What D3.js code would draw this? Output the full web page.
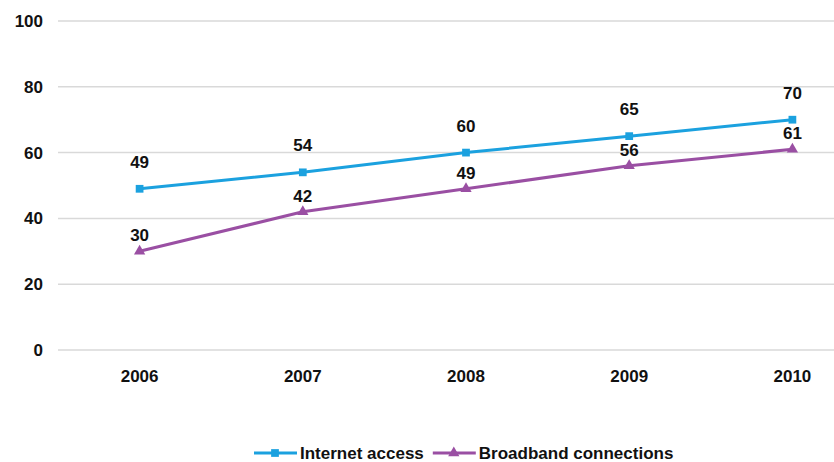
<!DOCTYPE html>
<html>
<head>
<meta charset="utf-8">
<script src="https://cdn.jsdelivr.net/npm/d3@7"></script>
<style>
  html, body { margin: 0; padding: 0; background: #fff; }
  svg { display: block; font-family: "Liberation Sans", Arial, sans-serif; }
</style>
</head>
<body>
<svg id="chart" width="834" height="462"></svg>
<script>
// Years on the x axis
const years = ["2006", "2007", "2008", "2009", "2010"];
// Share of households (%)
const internetAccess = [49, 54, 60, 65, 70];
const broadband = [30, 42, 49, 56, 61];
// Y axis ticks
const yTicks = [0, 20, 40, 60, 80, 100];
const seriesNames = ["Internet access", "Broadband connections"];

const svg = d3.select("#chart");
const W = 834;
const left = 58, plotRight = 874;
const fontSize = 17;

const x = d3.scaleBand().domain(years).range([left, plotRight]);
const cx = d => x(d) + x.bandwidth() / 2;
const y = d3.scaleLinear().domain([0, 100]).range([350, 21]);

const blue = "#1BA1DF";
const purple = "#9A4FA3";

// Gridlines
svg.append("g").selectAll("line").data(yTicks).join("line")
  .attr("x1", left).attr("x2", W)
  .attr("y1", d => y(d)).attr("y2", d => y(d))
  .attr("stroke", "#d9d9d9").attr("stroke-width", 1.5);

// Y axis labels
const yAxis = d3.axisLeft(y).tickValues(yTicks).tickSize(0).tickPadding(0);
svg.append("g").attr("transform", "translate(43,0)").call(yAxis)
  .call(g => g.select(".domain").remove())
  .selectAll("text")
  .attr("font-size", fontSize).attr("font-weight", "bold").attr("fill", "#111")
  .attr("font-family", "Liberation Sans, Arial, sans-serif");

// X axis labels
const xAxis = d3.axisBottom(x).tickSize(0).tickPadding(0);
svg.append("g").attr("transform", "translate(0,370)").call(xAxis)
  .call(g => g.select(".domain").remove())
  .selectAll("text")
  .attr("font-size", fontSize).attr("font-weight", "bold").attr("fill", "#111")
  .attr("font-family", "Liberation Sans, Arial, sans-serif");

const line = d3.line().x((d, i) => cx(years[i])).y(d => y(d));

const series = [
  { name: seriesNames[0], values: internetAccess, color: blue, symbol: d3.symbolSquare, size: 60, labelDy: -21 },
  { name: seriesNames[1], values: broadband, color: purple, symbol: d3.symbolTriangle, size: 55, labelDy: -10 }
];

series.forEach(s => {
  svg.append("path").datum(s.values)
    .attr("d", line).attr("fill", "none")
    .attr("stroke", s.color).attr("stroke-width", 3);
  svg.append("g").selectAll("path").data(s.values).join("path")
    .attr("d", d3.symbol().type(s.symbol).size(s.size))
    .attr("transform", (d, i) => `translate(${cx(years[i])},${y(d)})`)
    .attr("fill", s.color);
  svg.append("g").selectAll("text").data(s.values).join("text")
    .attr("x", (d, i) => cx(years[i]))
    .attr("y", d => y(d) + s.labelDy)
    .attr("text-anchor", "middle")
    .attr("font-size", fontSize).attr("font-weight", "bold").attr("fill", "#111")
    .text(d => d);
});

// Legend
const legend = svg.append("g").attr("transform", "translate(0,453)");
let lx = 254;
series.forEach(s => {
  const g = legend.append("g").attr("transform", `translate(${lx},0)`);
  g.append("line").attr("x1", 0).attr("x2", 43).attr("y1", 0).attr("y2", 0)
    .attr("stroke", s.color).attr("stroke-width", 3);
  g.append("path").attr("d", d3.symbol().type(s.symbol).size(s.size))
    .attr("transform", "translate(21,0)").attr("fill", s.color);
  const t = g.append("text").attr("x", 46).attr("y", 6)
    .attr("font-size", fontSize).attr("font-weight", "bold").attr("fill", "#111")
    .text(s.name);
  lx += 46 + t.node().getComputedTextLength() + 9;
});
</script>
</body>
</html>
